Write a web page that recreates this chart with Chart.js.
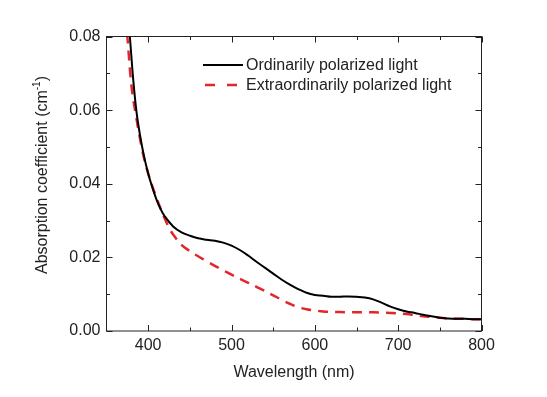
<!DOCTYPE html>
<html lang="en">
<head>
  <meta charset="UTF-8"/>
  <title>Absorption coefficient</title>
  <script src="https://cdn.jsdelivr.net/npm/chart.js"></script>
  <style>
    html, body { margin: 0; padding: 0; background: #fff; }
    .chart-box { width: 547px; height: 397px; position: relative; }
  </style>
</head>
<body>
  <div class="chart-box"><canvas id="chart"></canvas></div>
  <script>
    // ordinary ray (black solid)
    const wlOrdinary  = [374, 378, 382, 386, 390, 395, 400, 405, 410, 415, 420, 430, 440, 450, 460, 470, 480, 490, 500, 510,
                         520, 530, 540, 550, 560, 570, 580, 590, 600, 610, 620, 630, 640, 650, 660, 670, 680, 690, 700, 710,
                         720, 730, 740, 750, 760, 770, 780, 790, 800];
    const absOrdinary = [0.0900, 0.0800, 0.0685, 0.0595, 0.0535, 0.0475, 0.0428, 0.0390, 0.0357, 0.0331, 0.0311, 0.0284, 0.0268, 0.0259, 0.0252, 0.0248, 0.0245, 0.0240, 0.0232, 0.0220,
                         0.0205, 0.0188, 0.0172, 0.0156, 0.0140, 0.0126, 0.0114, 0.0104, 0.0098, 0.0096, 0.0093, 0.0093, 0.0094, 0.0093, 0.0091, 0.0086, 0.0077, 0.0067, 0.0059, 0.0053,
                         0.0049, 0.0044, 0.0040, 0.0036, 0.0034, 0.0033, 0.0033, 0.0032, 0.0032];

    // extraordinary ray (red dashed)
    const wlExtra  = [371, 375, 380, 385, 390, 395, 400, 405, 410, 415, 420, 425, 430, 440, 450, 460, 470, 480, 490, 500,
                      510, 520, 530, 540, 550, 560, 570, 580, 590, 600, 610, 620, 640, 660, 680, 700, 710, 720, 730, 740,
                      750, 760, 770, 780, 790, 800];
    const absExtra = [0.0900, 0.0800, 0.0665, 0.0590, 0.0525, 0.0470, 0.0428, 0.0393, 0.0362, 0.0332, 0.0305, 0.0281, 0.0262, 0.0234, 0.0217, 0.0203, 0.0190, 0.0177, 0.0165, 0.0153,
                      0.0142, 0.0131, 0.0120, 0.0109, 0.0097, 0.0085, 0.0074, 0.0065, 0.0059, 0.0056, 0.0053, 0.0052, 0.0051, 0.0051, 0.0050, 0.0048, 0.0046, 0.0043, 0.0040, 0.0038,
                      0.0036, 0.0034, 0.0033, 0.0033, 0.0032, 0.0032];

    const xTicks = [400, 500, 600, 700, 800];
    const xMinor = [450, 550, 650, 750];
    const yTicks = [0, 0.02, 0.04, 0.06, 0.08];
    const yMinor = [0.01, 0.03, 0.05, 0.07];
    const seriesLabels = ["Ordinarily polarized light", "Extraordinarily polarized light"];

    const FONT = '"Liberation Sans", Arial, sans-serif';
    const INK = "#222";
    const RED = "#e3262b";
    const DASH = [10, 7];

    const toPts = (xs, ys) => xs.map((x, i) => ({ x, y: ys[i] }));

    // frame, inward ticks on all four sides, legend and y title
    const framePlugin = {
      id: "frame",
      afterDraw(chart) {
        const { ctx, chartArea: a, scales: { x, y } } = chart;
        ctx.save();
        ctx.strokeStyle = INK;
        ctx.lineWidth = 1;
        ctx.setLineDash([]);
        ctx.strokeRect(a.left, a.top, a.right - a.left, a.bottom - a.top);

        ctx.beginPath();
        const hTick = (v, len) => {
          const px = Math.round(x.getPixelForValue(v)) + 0.5;
          ctx.moveTo(px, a.bottom); ctx.lineTo(px, a.bottom - len);
          ctx.moveTo(px, a.top);    ctx.lineTo(px, a.top + len);
        };
        const vTick = (v, len) => {
          const py = Math.round(y.getPixelForValue(v)) + 0.5;
          ctx.moveTo(a.left, py);  ctx.lineTo(a.left + len, py);
          ctx.moveTo(a.right, py); ctx.lineTo(a.right - len, py);
        };
        xTicks.forEach(v => hTick(v, 6));
        xMinor.forEach(v => hTick(v, 3.5));
        yTicks.forEach(v => vTick(v, 6));
        yMinor.forEach(v => vTick(v, 3.5));
        ctx.stroke();

        // legend
        ctx.font = "16px " + FONT;
        ctx.fillStyle = INK;
        ctx.textBaseline = "middle";
        ctx.textAlign = "left";
        ctx.strokeStyle = "#000";
        ctx.lineWidth = 2;
        ctx.beginPath(); ctx.moveTo(203, 65); ctx.lineTo(243, 65); ctx.stroke();
        ctx.fillText(seriesLabels[0], 246, 66);
        ctx.strokeStyle = RED;
        ctx.lineWidth = 2.5;
        ctx.setLineDash([10, 12]);
        ctx.beginPath(); ctx.moveTo(205, 85); ctx.lineTo(237, 85); ctx.stroke();
        ctx.setLineDash([]);
        ctx.fillText(seriesLabels[1], 246, 86);

        // y title with superscript
        const main = "Absorption coefficient (cm";
        const sup = "-1";
        ctx.font = "16px " + FONT;
        const w1 = ctx.measureText(main).width;
        const w3 = ctx.measureText(")").width;
        ctx.font = "10px " + FONT;
        const w2 = ctx.measureText(sup).width;
        const total = w1 + w2 + w3;
        ctx.translate(43, 175);
        ctx.rotate(-Math.PI / 2);
        let cx = -total / 2;
        ctx.font = "16px " + FONT;
        ctx.fillText(main, cx, 0);
        cx += w1;
        ctx.font = "10px " + FONT;
        ctx.fillText(sup, cx, -6);
        cx += w2;
        ctx.font = "16px " + FONT;
        ctx.fillText(")", cx, 0);
        ctx.restore();
      }
    };

    new Chart(document.getElementById("chart"), {
      type: "line",
      data: {
        datasets: [
          {
            label: seriesLabels[0],
            data: toPts(wlOrdinary, absOrdinary),
            borderColor: "#000",
            borderWidth: 2,
            pointRadius: 0,
            tension: 0.4,
            fill: false
          },
          {
            label: seriesLabels[1],
            data: toPts(wlExtra, absExtra),
            borderColor: RED,
            borderWidth: 2.5,
            borderDash: DASH,
            pointRadius: 0,
            tension: 0.4,
            fill: false
          }
        ]
      },
      options: {
        responsive: true,
        maintainAspectRatio: false,
        animation: false,
        devicePixelRatio: 1,
        layout: { padding: { left: 0, top: 36.5, right: 65.5, bottom: 0 } },
        plugins: { legend: { display: false }, tooltip: { enabled: false } },
        scales: {
          x: {
            type: "linear",
            min: 350, max: 800,
            afterBuildTicks: s => { s.ticks = xTicks.map(v => ({ value: v })); },
            afterFit: s => { s.height = 66; },
            grid: { display: false, drawTicks: false },
            border: { display: false },
            ticks: { color: INK, font: { family: FONT, size: 16 }, padding: 5, maxRotation: 0 },
            title: {
              display: true, text: "Wavelength (nm)", color: INK,
              font: { family: FONT, size: 16 }, padding: { top: 0, bottom: 15 }
            }
          },
          y: {
            min: 0, max: 0.08,
            afterBuildTicks: s => { s.ticks = yTicks.map(v => ({ value: v })); },
            afterFit: s => { s.width = 106.5; },
            grid: { display: false, drawTicks: false },
            border: { display: false },
            ticks: { color: INK, font: { family: FONT, size: 16 }, padding: 6, callback: v => v.toFixed(2) }
          }
        }
      },
      plugins: [framePlugin]
    });
  </script>
</body>
</html>
